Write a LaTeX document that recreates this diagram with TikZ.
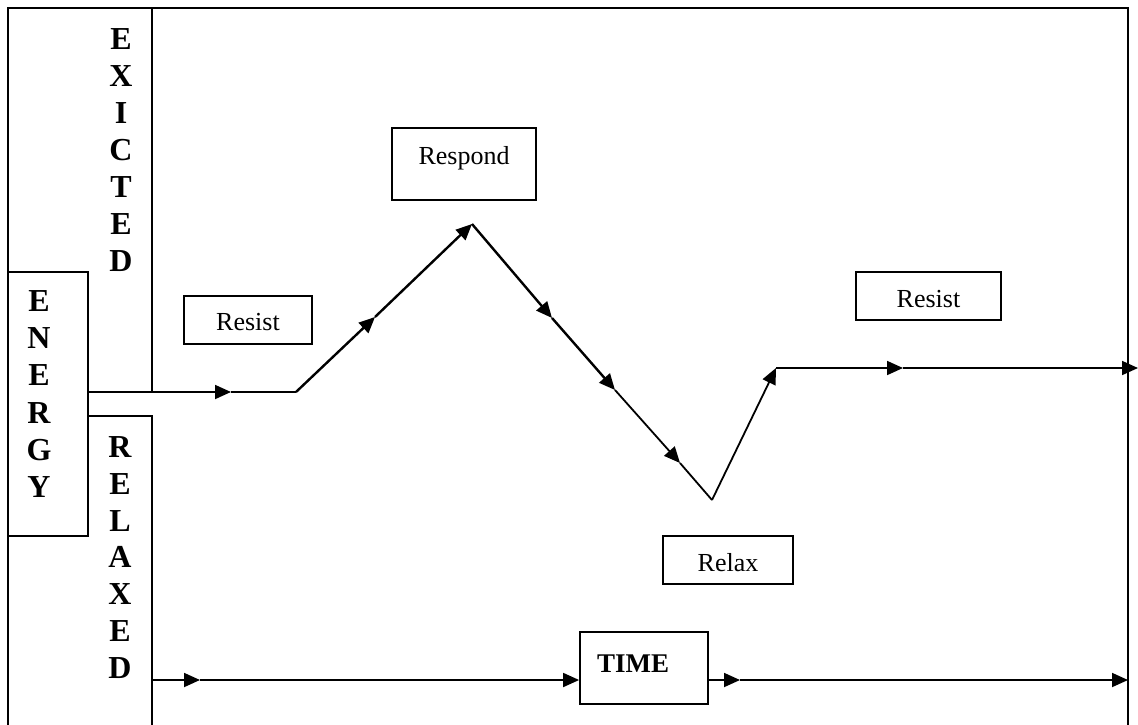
\documentclass[tikz,border=0pt]{standalone}
\usepackage{fontspec}
\setmainfont{Liberation Serif}
\usetikzlibrary{arrows.meta,positioning}
\tikzset{
	box/.style={draw, line width=1.8pt, inner sep=0pt, font=\fontsize{26}{30}\selectfont},
	letter/.style={anchor=base, inner sep=0pt, font=\fontsize{32}{37}\selectfont\bfseries},
	arr/.style={-{Triangle[length=16pt,width=14pt]}},
}

\begin{document}
\begin{tikzpicture}[x=1pt, y=-1pt, line width=1.8pt]
	\useasboundingbox (0,0) rectangle (1138,725);

	% outer frame and column lines
	\draw[line width=2pt] (8,725) -- (8,8) -- (1128,8) -- (1128,725);
	\draw (152,8) -- (152,392);
	\draw (88,416) -- (152,416) -- (152,725);

	% energy box and the three letter columns
	\node[draw, line width=1.8pt, minimum width=80pt, minimum height=264pt, inner sep=0pt] (energy) at (48,404) {};
	\foreach \ch [count=\i] in {E,X,I,C,T,E,D}
		\node[letter] (exc\i) at (121, 49.5+37*\i-37) {\ch};
	\foreach \ch [count=\i] in {E,N,E,R,G,Y}
		\node[letter] (ene\i) at (39, 311.5+37.2*\i-37.2) {\ch};
	\foreach \ch [count=\i] in {R,E,L,A,X,E,D}
		\node[letter] (rel\i) at (120, 457.5+36.8*\i-36.8) {\ch};

	% phase labels
	\node[box, minimum width=128pt, text height=34pt, text depth=14pt] (resistA) at (248,320) {Resist};
	\node[box, minimum width=144pt, text height=36pt, text depth=36pt] (respond) at (464,164) {Respond};
	\node[box, minimum width=130pt, text height=35pt, text depth=13pt] (relax) at (728,560) {Relax};
	\node[box, minimum width=145pt, text height=35.5pt, text depth=12.5pt] (resistB) at (928.5,296) {Resist};
	\node[box, text width=94pt, inner xsep=17pt, align=left, text height=40pt, text depth=32pt,
		font=\fontsize{27}{30}\selectfont\bfseries] (time) at (644,668) {TIME};

	% energy path
	\coordinate (start) at (88,392);
	\coordinate (r1) at (231,392);
	\coordinate (bend) at (296,392);
	\coordinate (r2) at (375,317);
	\coordinate (peak) at (472,224);
	\coordinate (d1) at (552,318);
	\coordinate (d2) at (615,390);
	\coordinate (d3) at (680,463);
	\coordinate (valley) at (712,500);
	\coordinate (top) at (776,368);
	\coordinate (f1) at (903,368);
	\coordinate (finish) at (1138,368);

	\draw[arr] (start) -- (r1);
	\draw (r1) -- (bend);
	\draw[arr, line width=2.4pt] (bend) -- (r2);
	\draw[arr, line width=2.4pt] (r2) -- (peak);
	\draw[arr, line width=2.4pt] (peak) -- (d1);
	\draw[arr, line width=2.4pt] (d1) -- (d2);
	\draw[arr] (d2) -- (d3);
	\draw (d3) -- (valley);
	\draw[arr] (valley) -- (top);
	\draw[arr] (top) -- (f1);
	\draw[arr] (f1) -- (finish);

	% time axis
	\coordinate (t0) at (152,680);
	\coordinate (t1) at (200,680);
	\coordinate (t2) at (740,680);
	\coordinate (t3) at (1128,680);

	\draw[arr] (t0) -- (t1);
	\draw[arr] (t1) -- (time.west |- t1);
	\draw[arr] (time.east |- t1) -- (t2);
	\draw[arr] (t2) -- (t3);

\end{tikzpicture}
\end{document}
